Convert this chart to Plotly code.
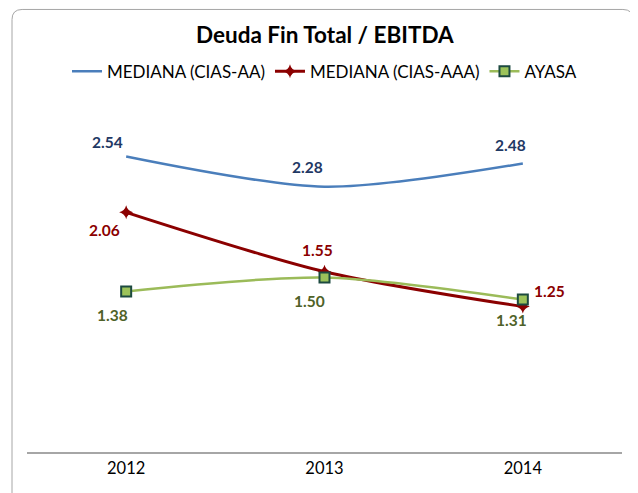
import plotly.graph_objects as go

# ================= DATA =================
years = ["2012", "2013", "2014"]
cias_aa = [2.54, 2.28, 2.48]
cias_aaa = [2.06, 1.55, 1.25]
ayasa = [1.38, 1.50, 1.31]

font_family = "Lato, Open Sans, sans-serif"

fig = go.Figure()

# ================= LINES =================
fig.add_trace(go.Scatter(
    x=years, y=cias_aa,
    mode="lines",
    name="MEDIANA (CIAS-AA)",
    line=dict(color="#4A7EBB", width=2.5, shape="spline", smoothing=0.8),
))

fig.add_trace(go.Scatter(
    x=years, y=cias_aaa,
    mode="lines+markers",
    name="MEDIANA (CIAS-AAA)",
    line=dict(color="#8B0000", width=3, shape="spline", smoothing=0.8),
    marker=dict(symbol="star-diamond", size=10, color="#8B0000"),
))

fig.add_trace(go.Scatter(
    x=years, y=ayasa,
    mode="lines+markers",
    name="AYASA",
    line=dict(color="#9BBB59", width=2.5, shape="spline", smoothing=0.8),
    marker=dict(symbol="square", size=10, color="#9CC35A",
                line=dict(color="#1D4A40", width=2)),
))

# ================= DATA LABELS =================
# pixel offsets of each label from its point (dx, dy up = positive)
series = [
    (cias_aa, "#1F3864", [(-19, 15), (-17, 20), (-12, 18)]),
    (cias_aaa, "#8B0000", [(-22, -18), (-7, 22), (27, 16)]),
    (ayasa, "#4F6228", [(-14, -24), (-15, -23), (-11, -20)]),
]
annotations = []
for values, color, offsets in series:
    # category axis: annotations use the category index
    for i, (v, (dx, dy)) in enumerate(zip(values, offsets)):
        annotations.append(dict(
            x=i, y=v, xref="x", yref="y",
            text=f"<b>{v:.2f}</b>", showarrow=False,
            xshift=dx, yshift=dy,
            font=dict(size=15.5, color=color, family=font_family),
        ))

# ================= BORDER =================
x0, x1 = -0.0252, 1.0185
y0, y1 = -0.15, 1.268
rx, ry = 0.017, 0.029
border = (f"M {x0+rx},{y1} L {x1-rx},{y1} Q {x1},{y1} {x1},{y1-ry} "
          f"L {x1},{y0+ry} Q {x1},{y0} {x1-rx},{y0} L {x0+rx},{y0} "
          f"Q {x0},{y0} {x0},{y0+ry} L {x0},{y1-ry} Q {x0},{y1} {x0+rx},{y1} Z")

# ================= LAYOUT =================
fig.update_layout(
    width=630, height=485,
    margin=dict(l=19, r=16, t=95, b=41),
    paper_bgcolor="white",
    plot_bgcolor="white",
    title=dict(
        text="<b>Deuda Fin Total / EBITDA</b>",
        x=0.503, xanchor="center", y=0.944, yanchor="middle",
        font=dict(size=22.5, color="black", family=font_family),
    ),
    legend=dict(
        orientation="h", x=0.5, xanchor="center", y=1.09, yanchor="middle",
        font=dict(size=17, color="black", family=font_family),
        itemwidth=30, tracegroupgap=0,
    ),
    xaxis=dict(
        type="category", range=[-0.5, 2.5],
        showgrid=False, showline=True, linecolor="#A6A6A6", linewidth=1.5,
        ticks="", tickfont=dict(size=16.5, color="black", family=font_family),
        fixedrange=True,
    ),
    yaxis=dict(
        range=[0, 3.0], showgrid=False, showline=False, zeroline=False,
        showticklabels=False, ticks="", fixedrange=True,
    ),
    annotations=annotations,
    shapes=[dict(type="path", path=border, xref="paper", yref="paper",
                 line=dict(color="#A6A6A6", width=1), layer="below")],
    showlegend=True,
)

fig.write_html("out.html")
